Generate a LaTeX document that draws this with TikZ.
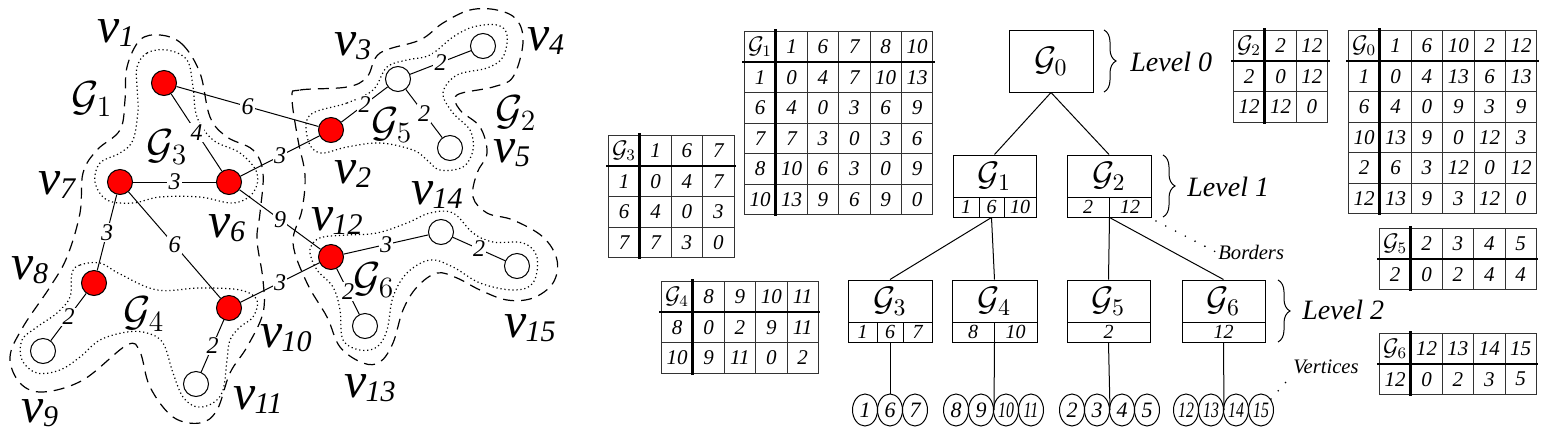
\RequirePackage{fix-cm}
\documentclass[tikz,border=0pt]{standalone}
\usepackage[no-math]{fontspec}
\IfFontExistsTF{LiberationSerif-Italic.ttf}{%
  \setmainfont{LiberationSerif}[Extension=.ttf, UprightFont=*-Regular, ItalicFont=*-Italic,
    BoldFont=*-Bold, BoldItalicFont=*-BoldItalic]}{%
  \setmainfont{Liberation Serif}[ItalicFont={Liberation Serif Italic}]}
\usepackage{graphicx}
\usetikzlibrary{matrix,shapes.geometric,decorations.pathreplacing}

\newcommand\vlab[1]{{\fontsize{25}{25}\selectfont\itshape v\kern-0.5pt\raisebox{-2pt}{\fontsize{15}{15}\selectfont #1}}}
\newcommand\glab[1]{{\fontsize{21}{21}\selectfont$\mathcal{G}_{#1}$}}
\newcommand\lf[1]{\makebox[0pt]{#1}}
\newcommand\lff[1]{\makebox[0pt]{\scalebox{0.72}[1]{#1}}}
\newcommand\hd[1]{{\fontsize{12}{12}\selectfont$\mathcal{G}_{#1}$}}

\tikzset{
  vred/.style={circle, draw, line width=0.5pt, fill=red, minimum size=12.5pt, inner sep=0pt},
  vwhite/.style={circle, draw, line width=0.5pt, fill=white, minimum size=12.5pt, inner sep=0pt},
  edg/.style={line width=0.5pt},
  wt/.style={fill=white, inner sep=0.6pt, font=\fontsize{12}{12}\selectfont\itshape},
  dashb/.style={line width=0.6pt, dash pattern=on 5.5pt off 3.5pt},
  dotb/.style={line width=0.6pt, dash pattern=on 0.6pt off 1.4pt},
  tbl/.style={matrix of nodes, anchor=north west, inner sep=0pt, outer sep=0pt,
    column sep=-0.4pt, row sep=-0.4pt,
    nodes={draw=black!80, line width=0.4pt, minimum width=15.7pt, minimum height=15.25pt,
      inner sep=0pt, anchor=center, font=\fontsize{10.5}{10.5}\selectfont\itshape}},
  thk/.style={line width=1.4pt},
  tbox/.style={draw, line width=0.5pt, minimum height=21pt, inner sep=0pt, font=\fontsize{17}{17}\selectfont},
  tcell/.style={draw, line width=0.5pt, minimum height=10pt, inner sep=0pt, font=\fontsize{10}{10}\selectfont\itshape},
  leaf/.style={ellipse, draw, line width=0.5pt, minimum width=12.5pt, minimum height=16pt, inner sep=0pt, font=\fontsize{11}{11}\selectfont\itshape},
  conn/.style={line width=0.5pt},
  brc/.style={decorate, decoration={brace, amplitude=6pt}, line width=0.5pt},
  lvl/.style={anchor=west, inner sep=1pt, font=\fontsize{14}{14}\selectfont\itshape},
  small/.style={anchor=west, inner sep=1pt, font=\fontsize{10.3}{10.3}\selectfont\itshape},
  dots/.style={line width=0.9pt, line cap=round, dash pattern=on 0pt off 5.5pt}
}

\begin{document}
\begin{tikzpicture}[x=0.5pt,y=-0.5pt]
\useasboundingbox (0,0) rectangle (1549,440);

% ---------------- contours ----------------
\draw[dashb] plot[smooth cycle, tension=0.6] coordinates {
(160,35) (182,44) (200,73) (210,117) (227,137) (253,150) (263,173) (260,213) (257,240)
(263,280) (263,313) (247,347) (230,373) (217,410) (200,423) (173,417) (150,387) (140,352)
(127,345) (83,380) (43,392) (20,383) (10,357) (23,327) (50,287) (67,257) (80,213) (83,173)
(97,150) (120,130) (125,100) (127,67) (140,40)};
\draw[dotb] plot[smooth cycle, tension=0.6] coordinates {
(137,67) (147,53) (167,50) (187,60) (193,87) (197,117) (213,140) (240,153) (257,173)
(253,193) (233,203) (200,197) (160,197) (133,203) (107,200) (95,182) (100,163) (120,153)
(133,140) (138,110) (137,87)};
\draw[dotb] plot[smooth cycle, tension=0.6] coordinates {
(72,273) (80,265) (100,263) (120,274) (157,290) (200,288) (240,290) (257,300) (253,317)
(240,327) (230,340) (227,360) (223,390) (213,403) (197,407) (183,397) (173,373) (163,343)
(147,333) (127,332) (100,340) (80,357) (60,370) (37,373) (22,360) (22,340) (37,327)
(57,313) (70,297)};
\draw[dashb] plot[smooth cycle, tension=0.6] coordinates {
(292,97) (300,90) (347,87) (367,77) (380,53) (420,40) (443,23) (470,10) (497,10) (517,20)
(523,43) (513,77) (493,87) (457,95) (460,110) (480,127) (487,153) (477,173) (473,197)
(487,213) (513,220) (543,237) (557,260) (553,283) (533,298) (507,300) (480,290) (457,278)
(437,273) (417,287) (403,310) (393,343) (380,362) (363,363) (340,347) (327,317) (307,283)
(293,243) (302,210) (305,175) (298,140)};
\draw[dotb] plot[smooth cycle, tension=0.6] coordinates {
(310,115) (347,103) (373,90) (387,67) (407,60) (430,55) (453,37) (473,27) (497,25)
(507,35) (503,57) (487,68) (457,75) (443,93) (453,113) (470,130) (473,150) (463,167)
(440,170) (427,160) (413,150) (380,143) (347,147) (320,153) (308,140)};
\draw[dotb] plot[smooth cycle, tension=0.6] coordinates {
(313,243) (323,237) (347,235) (377,233) (407,223) (430,213) (453,213) (473,233) (493,242)
(523,243) (537,257) (533,283) (513,290) (480,283) (453,267) (430,260) (407,273) (393,297)
(387,330) (377,347) (360,350) (343,340) (340,310) (333,287) (317,270) (310,253)};

% ---------------- vertices ----------------
\node[vred]   (v1)  at (164,83)  {};
\node[vred]   (v2)  at (331,130) {};
\node[vwhite] (v3)  at (398,79)  {};
\node[vwhite] (v4)  at (483,46)  {};
\node[vwhite] (v5)  at (450,148) {};
\node[vred]   (v6)  at (229,182) {};
\node[vred]   (v7)  at (120,182) {};
\node[vred]   (v8)  at (94,283)  {};
\node[vwhite] (v9)  at (43,351)  {};
\node[vred]   (v10) at (229,308) {};
\node[vwhite] (v11) at (196,384) {};
\node[vred]   (v12) at (331,257) {};
\node[vwhite] (v13) at (365,326) {};
\node[vwhite] (v14) at (441,232) {};
\node[vwhite] (v15) at (517,266) {};

% ---------------- edges ----------------
\draw[edg] (v1) -- node[wt] (w1) {6} (v2);
\draw[edg] (v1) -- node[wt] (w2) {4} (v6);
\draw[edg] (v7) -- node[wt] (w3) {3} (v6);
\draw[edg] (v6) -- node[wt] (w4) {3} (v2);
\draw[edg] (v6) -- node[wt] (w5) {9} (v12);
\draw[edg] (v7) -- node[wt] (w6) {3} (v8);
\draw[edg] (v7) -- node[wt] (w7) {6} (v10);
\draw[edg] (v8) -- node[wt] (w8) {2} (v9);
\draw[edg] (v10) -- node[wt] (w9) {2} (v11);
\draw[edg] (v10) -- node[wt] (w10) {3} (v12);
\draw[edg] (v2) -- node[wt] (w11) {2} (v3);
\draw[edg] (v3) -- node[wt] (w12) {2} (v4);
\draw[edg] (v3) -- node[wt] (w13) {2} (v5);
\draw[edg] (v12) -- node[wt] (w14) {3} (v14);
\draw[edg] (v14) -- node[wt] (w15) {2} (v15);
\draw[edg] (v12) -- node[wt] (w16) {2} (v13);

% ---------------- graph labels ----------------
\node (lv1)  at (116,33)  {\vlab{1}};
\node (lv2)  at (353,174) {\vlab{2}};
\node (lv3)  at (353,46)  {\vlab{3}};
\node (lv4)  at (546,41)  {\vlab{4}};
\node (lv5)  at (512,153) {\vlab{5}};
\node (lv6)  at (227,228) {\vlab{6}};
\node (lv7)  at (57,185)  {\vlab{7}};
\node (lv8)  at (30,270)  {\vlab{8}};
\node (lv9)  at (40,413)  {\vlab{9}};
\node (lv10) at (286,338) {\vlab{10}};
\node (lv11) at (258,400) {\vlab{11}};
\node (lv12) at (337,221) {\vlab{12}};
\node (lv13) at (370,388) {\vlab{13}};
\node (lv14) at (437,195) {\vlab{14}};
\node (lv15) at (530,328) {\vlab{15}};
\node (lg1) at (92,99)   {\glab{1}};
\node (lg2) at (516,113) {\glab{2}};
\node (lg3) at (167,147) {\glab{3}};
\node (lg4) at (144,314) {\glab{4}};
\node (lg5) at (392,125) {\glab{5}};
\node (lg6) at (374,280) {\glab{6}};

% ---------------- tables ----------------
\matrix (t3) [tbl] at (608,135) {
\hd{3} & 1 & 6 & 7 \\
1 & 0 & 4 & 7 \\
6 & 4 & 0 & 3 \\
7 & 7 & 3 & 0 \\
};
\draw[thk] ([yshift=1pt]t3-1-1.north east) -- ([yshift=-1pt]t3-4-1.south east);
\draw[thk] ([xshift=-1pt]t3-1-1.south west) -- ([xshift=1pt]t3-1-4.south east);

\matrix (t1) [tbl] at (744,31) {
\hd{1} & 1 & 6 & 7 & 8 & 10 \\
1 & 0 & 4 & 7 & 10 & 13 \\
6 & 4 & 0 & 3 & 6 & 9 \\
7 & 7 & 3 & 0 & 3 & 6 \\
8 & 10 & 6 & 3 & 0 & 9 \\
10 & 13 & 9 & 6 & 9 & 0 \\
};
\draw[thk] ([yshift=1pt]t1-1-1.north east) -- ([yshift=-1pt]t1-6-1.south east);
\draw[thk] ([xshift=-1pt]t1-1-1.south west) -- ([xshift=1pt]t1-1-6.south east);

\matrix (t2) [tbl] at (1233,30) {
\hd{2} & 2 & 12 \\
2 & 0 & 12 \\
12 & 12 & 0 \\
};
\draw[thk] ([yshift=1pt]t2-1-1.north east) -- ([yshift=-1pt]t2-3-1.south east);
\draw[thk] ([xshift=-1pt]t2-1-1.south west) -- ([xshift=1pt]t2-1-3.south east);

\matrix (t0) [tbl] at (1348,30) {
\hd{0} & 1 & 6 & 10 & 2 & 12 \\
1 & 0 & 4 & 13 & 6 & 13 \\
6 & 4 & 0 & 9 & 3 & 9 \\
10 & 13 & 9 & 0 & 12 & 3 \\
2 & 6 & 3 & 12 & 0 & 12 \\
12 & 13 & 9 & 3 & 12 & 0 \\
};
\draw[thk] ([yshift=1pt]t0-1-1.north east) -- ([yshift=-1pt]t0-6-1.south east);
\draw[thk] ([xshift=-1pt]t0-1-1.south west) -- ([xshift=1pt]t0-1-6.south east);

\matrix (t5) [tbl] at (1379,228) {
\hd{5} & 2 & 3 & 4 & 5 \\
2 & 0 & 2 & 4 & 4 \\
};
\draw[thk] ([yshift=1pt]t5-1-1.north east) -- ([yshift=-1pt]t5-2-1.south east);
\draw[thk] ([xshift=-1pt]t5-1-1.south west) -- ([xshift=1pt]t5-1-5.south east);

\matrix (t6) [tbl] at (1379,333) {
\hd{6} & 12 & 13 & 14 & 15 \\
12 & 0 & 2 & 3 & 5 \\
};
\draw[thk] ([yshift=1pt]t6-1-1.north east) -- ([yshift=-1pt]t6-2-1.south east);
\draw[thk] ([xshift=-1pt]t6-1-1.south west) -- ([xshift=1pt]t6-1-5.south east);

\matrix (t4) [tbl] at (661,281) {
\hd{4} & 8 & 9 & 10 & 11 \\
8 & 0 & 2 & 9 & 11 \\
10 & 9 & 11 & 0 & 2 \\
};
\draw[thk] ([yshift=1pt]t4-1-1.north east) -- ([yshift=-1pt]t4-3-1.south east);
\draw[thk] ([xshift=-1pt]t4-1-1.south west) -- ([xshift=1pt]t4-1-5.south east);

% ---------------- tree ----------------
\node[tbox, minimum width=42pt, minimum height=31pt] (g0) at (1051,61) {$\mathcal{G}_0$};

\node[tbox, minimum width=41.5pt] (g1) at (994.5,176) {$\mathcal{G}_1$};
\node[tcell, minimum width=13pt]   (g1a) at (966,207)    {1};
\node[tcell, minimum width=12.5pt] (g1b) at (991.5,207)  {6};
\node[tcell, minimum width=16pt]   (g1c) at (1020,207)   {10};

\node[tbox, minimum width=42pt] (g2) at (1109,176) {$\mathcal{G}_2$};
\node[tcell, minimum width=21pt] (g2a) at (1088,207) {2};
\node[tcell, minimum width=21pt] (g2b) at (1130,207) {12};

\node[tbox, minimum width=42pt] (g3) at (890,301) {$\mathcal{G}_3$};
\node[tcell, minimum width=14.5pt] (g3a) at (862.5,332) {1};
\node[tcell, minimum width=13pt]   (g3b) at (890,332)   {6};
\node[tcell, minimum width=14.5pt] (g3c) at (917.5,332) {7};

\node[tbox, minimum width=42.5pt] (g4) at (994.5,301) {$\mathcal{G}_4$};
\node[tcell, minimum width=21pt]   (g4a) at (973,332)    {8};
\node[tcell, minimum width=21.5pt] (g4b) at (1015.5,332) {10};

\node[tbox, minimum width=41.5pt] (g5) at (1108.5,301) {$\mathcal{G}_5$};
\node[tcell, minimum width=41.5pt] (g5a) at (1108.5,332) {2};

\node[tbox, minimum width=41.5pt] (g6) at (1223.5,301) {$\mathcal{G}_6$};
\node[tcell, minimum width=41.5pt] (g6a) at (1223.5,332) {12};

% leaves
\node[leaf] (l1)  at (865,410)  {\lf{1}};
\node[leaf] (l6)  at (890,410)  {\lf{6}};
\node[leaf] (l7)  at (915,410)  {\lf{7}};
\node[leaf] (l8)  at (956,410)  {\lf{8}};
\node[leaf] (l9)  at (981,410)  {\lf{9}};
\node[leaf] (l10) at (1006,410) {\lff{10}};
\node[leaf] (l11) at (1031,410) {\lff{11}};
\node[leaf] (l2)  at (1072,410) {\lf{2}};
\node[leaf] (l3)  at (1097,410) {\lf{3}};
\node[leaf] (l4)  at (1122,410) {\lf{4}};
\node[leaf] (l5)  at (1147,410) {\lf{5}};
\node[leaf] (l12) at (1186,410) {\lff{12}};
\node[leaf] (l13) at (1211,410) {\lff{13}};
\node[leaf] (l14) at (1236,410) {\lff{14}};
\node[leaf] (l15) at (1261,410) {\lff{15}};

% connectors
\draw[conn] (g0.south) -- (g1.north);
\draw[conn] (g0.south) -- (g2.north);
\draw[conn] (g1b.south) -- (g3.north);
\draw[conn] (g1b.south) -- (g4.north);
\draw[conn] (g2a.south east) -- (g5.north);
\draw[conn] (g2a.south east) -- (g6.north);
\draw[conn] (g3b.south) -- (l6.north);
\draw[conn] (g4a.south east) -- (l9.east);
\draw[conn] (g5a.south) -- (l3.east);
\draw[conn] (g6a.south) -- (l13.east);

% braces and level labels
\coordinate (b0t) at (1104,30);  \coordinate (b0b) at (1104,92);
\coordinate (b1t) at (1163,155); \coordinate (b1b) at (1163,217);
\coordinate (b2t) at (1278,280); \coordinate (b2b) at (1278,342);
\draw[brc] (b0t) -- (b0b);
\draw[brc] (b1t) -- (b1b);
\draw[brc] (b2t) -- (b2b);
\node[lvl] (lev0) at (1128,62)  {Level 0};
\node[lvl] (lev1) at (1185,187) {Level 1};
\node[lvl] (lev2) at (1300,310) {Level 2};

% borders / vertices annotations
\node[small] (bord) at (1216,252) {Borders};
\coordinate (bd0) at (1156,221);
\draw[dots] (bd0) -- (bord.west);
\node[small] (vert) at (1291,367) {Vertices};
\coordinate (vt0) at (1271,399);
\draw[dots] (vt0) -- (vert.south west);
\end{tikzpicture}
\end{document}
